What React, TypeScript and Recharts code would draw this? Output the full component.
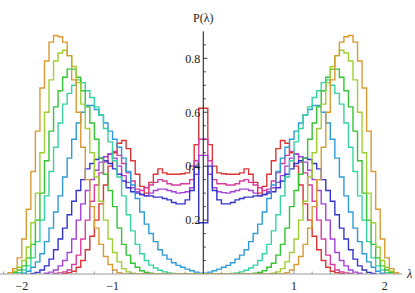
import { LineChart, Line, XAxis, YAxis, ReferenceLine, ReferenceDot } from "recharts";

// histogram bins: 88 bins of width 0.05 from -2.2 to 2.2
const BIN_START = -2.2;
const BIN_WIDTH = 0.05;

const orange = [
  0, 0.005, 0.02, 0.06, 0.13, 0.24, 0.38, 0.53, 0.69, 0.79, 0.86,
  0.885, 0.88, 0.86, 0.81, 0.72, 0.6, 0.47, 0.35, 0.25, 0.17, 0.11,
  0.065, 0.035, 0.015, 0.005, 0, 0, 0, 0, 0, 0, 0,
  0, 0, 0, 0, 0, 0, 0, 0, 0, 0, 0,
  0, 0, 0, 0, 0, 0, 0, 0, 0, 0, 0,
  0, 0, 0, 0, 0, 0, 0, 0.005, 0.015, 0.035, 0.065,
  0.11, 0.17, 0.25, 0.35, 0.47, 0.6, 0.72, 0.81, 0.86, 0.88, 0.885,
  0.86, 0.79, 0.69, 0.53, 0.38, 0.24, 0.13, 0.06, 0.02, 0.005, 0,
];

const yellowGreen = [
  0, 0, 0.01, 0.025, 0.05, 0.1, 0.19, 0.3, 0.45, 0.6, 0.72,
  0.79, 0.82, 0.83, 0.81, 0.77, 0.71, 0.63, 0.54, 0.45, 0.36, 0.27,
  0.2, 0.13, 0.08, 0.045, 0.02, 0.008, 0.003, 0, 0, 0, 0,
  0, 0, 0, 0, 0, 0, 0, 0, 0, 0, 0,
  0, 0, 0, 0, 0, 0, 0, 0, 0, 0, 0,
  0, 0, 0, 0, 0.003, 0.008, 0.02, 0.045, 0.08, 0.13, 0.2,
  0.27, 0.36, 0.45, 0.54, 0.63, 0.71, 0.77, 0.81, 0.83, 0.82, 0.79,
  0.72, 0.6, 0.45, 0.3, 0.19, 0.1, 0.05, 0.025, 0.01, 0, 0,
];

const green = [
  0, 0, 0.005, 0.015, 0.03, 0.06, 0.11, 0.2, 0.3, 0.42, 0.53,
  0.62, 0.68, 0.73, 0.76, 0.76, 0.73, 0.68, 0.62, 0.56, 0.5, 0.43,
  0.37, 0.31, 0.25, 0.17, 0.11, 0.07, 0.04, 0.025, 0.012, 0.006, 0.003,
  0, 0, 0, 0, 0, 0, 0, 0, 0, 0, 0,
  0, 0, 0, 0, 0, 0, 0, 0, 0, 0, 0,
  0.003, 0.006, 0.012, 0.025, 0.04, 0.07, 0.11, 0.17, 0.25, 0.31, 0.37,
  0.43, 0.5, 0.56, 0.62, 0.68, 0.73, 0.76, 0.76, 0.73, 0.68, 0.62,
  0.53, 0.42, 0.3, 0.2, 0.11, 0.06, 0.03, 0.015, 0.005, 0, 0,
];

const teal = [
  0, 0, 0, 0.005, 0.015, 0.03, 0.06, 0.12, 0.2, 0.29, 0.38,
  0.47, 0.56, 0.63, 0.67, 0.7, 0.72, 0.71, 0.68, 0.655, 0.62, 0.59,
  0.54, 0.49, 0.42, 0.36, 0.29, 0.22, 0.16, 0.11, 0.075, 0.05, 0.033,
  0.022, 0.014, 0.008, 0.004, 0.002, 0, 0, 0, 0, 0, 0,
  0, 0, 0, 0, 0, 0, 0.002, 0.004, 0.008, 0.014, 0.022,
  0.033, 0.05, 0.075, 0.11, 0.16, 0.22, 0.29, 0.36, 0.42, 0.49, 0.54,
  0.59, 0.62, 0.655, 0.68, 0.71, 0.72, 0.7, 0.67, 0.63, 0.56, 0.47,
  0.38, 0.29, 0.2, 0.12, 0.06, 0.03, 0.015, 0.005, 0, 0, 0,
];

const skyBlue = [
  0, 0, 0, 0, 0.003, 0.01, 0.025, 0.045, 0.075, 0.12, 0.17,
  0.23, 0.29, 0.36, 0.43, 0.5, 0.56, 0.6, 0.625, 0.625, 0.61, 0.59,
  0.56, 0.53, 0.5, 0.47, 0.43, 0.38, 0.33, 0.28, 0.23, 0.185, 0.15,
  0.12, 0.09, 0.07, 0.055, 0.042, 0.032, 0.025, 0.018, 0.012, 0.007, 0.003,
  0.003, 0.007, 0.012, 0.018, 0.025, 0.032, 0.042, 0.055, 0.07, 0.09, 0.12,
  0.15, 0.185, 0.23, 0.28, 0.33, 0.38, 0.43, 0.47, 0.5, 0.53, 0.56,
  0.59, 0.61, 0.625, 0.625, 0.6, 0.56, 0.5, 0.43, 0.36, 0.29, 0.23,
  0.17, 0.12, 0.075, 0.045, 0.025, 0.01, 0.003, 0, 0, 0, 0,
];

const blue = [
  0, 0, 0, 0, 0, 0, 0.002, 0.006, 0.015, 0.03, 0.055,
  0.09, 0.13, 0.17, 0.22, 0.27, 0.31, 0.35, 0.39, 0.41, 0.425, 0.43,
  0.42, 0.41, 0.39, 0.37, 0.345, 0.32, 0.305, 0.3, 0.295, 0.29, 0.29,
  0.285, 0.285, 0.28, 0.275, 0.265, 0.26, 0.26, 0.275, 0.31, 0.4, 0.19,
  0.19, 0.4, 0.31, 0.275, 0.26, 0.26, 0.265, 0.275, 0.28, 0.285, 0.285,
  0.29, 0.29, 0.295, 0.3, 0.305, 0.32, 0.345, 0.37, 0.39, 0.41, 0.42,
  0.43, 0.425, 0.41, 0.39, 0.35, 0.31, 0.27, 0.22, 0.17, 0.13, 0.09,
  0.055, 0.03, 0.015, 0.006, 0.002, 0, 0, 0, 0, 0, 0,
];

const purple = [
  0, 0, 0, 0, 0, 0, 0, 0, 0, 0.003, 0.007,
  0.015, 0.03, 0.05, 0.08, 0.13, 0.2, 0.26, 0.31, 0.35, 0.385, 0.415,
  0.435, 0.445, 0.43, 0.4, 0.365, 0.34, 0.32, 0.305, 0.295, 0.29, 0.3,
  0.31, 0.315, 0.315, 0.31, 0.305, 0.3, 0.302, 0.305, 0.32, 0.37, 0.44,
  0.44, 0.37, 0.32, 0.305, 0.302, 0.3, 0.305, 0.31, 0.315, 0.315, 0.31,
  0.3, 0.29, 0.295, 0.305, 0.32, 0.34, 0.365, 0.4, 0.43, 0.445, 0.435,
  0.415, 0.385, 0.35, 0.31, 0.26, 0.2, 0.13, 0.08, 0.05, 0.03, 0.015,
  0.007, 0.003, 0, 0, 0, 0, 0, 0, 0, 0, 0,
];

const magenta = [
  0, 0, 0, 0, 0, 0, 0, 0, 0, 0, 0,
  0.002, 0.004, 0.008, 0.015, 0.035, 0.07, 0.13, 0.2, 0.27, 0.33, 0.375,
  0.415, 0.445, 0.455, 0.44, 0.41, 0.375, 0.345, 0.315, 0.31, 0.32, 0.33,
  0.34, 0.35, 0.345, 0.335, 0.33, 0.33, 0.335, 0.335, 0.35, 0.42, 0.5,
  0.5, 0.42, 0.35, 0.335, 0.335, 0.33, 0.33, 0.335, 0.345, 0.35, 0.34,
  0.33, 0.32, 0.31, 0.315, 0.345, 0.375, 0.41, 0.44, 0.455, 0.445, 0.415,
  0.375, 0.33, 0.27, 0.2, 0.13, 0.07, 0.035, 0.015, 0.008, 0.004, 0.002,
  0, 0, 0, 0, 0, 0, 0, 0, 0, 0, 0,
];

const red = [
  0, 0, 0, 0, 0, 0, 0, 0, 0, 0, 0,
  0, 0, 0.002, 0.005, 0.01, 0.025, 0.05, 0.09, 0.14, 0.2, 0.26,
  0.33, 0.4, 0.45, 0.485, 0.495, 0.465, 0.42, 0.37, 0.325, 0.3, 0.34,
  0.37, 0.39, 0.375, 0.37, 0.37, 0.37, 0.372, 0.375, 0.4, 0.48, 0.615,
  0.615, 0.48, 0.4, 0.375, 0.372, 0.37, 0.37, 0.37, 0.375, 0.39, 0.37,
  0.34, 0.3, 0.325, 0.37, 0.42, 0.465, 0.495, 0.485, 0.45, 0.4, 0.33,
  0.26, 0.2, 0.14, 0.09, 0.05, 0.025, 0.01, 0.005, 0.002, 0, 0,
  0, 0, 0, 0, 0, 0, 0, 0, 0, 0, 0,
];

const xMajorTicks = [-2, -1, 1, 2];
const xMinorTicks = [-2.2, -1.8, -1.6, -1.4, -1.2, -0.8, -0.6, -0.4, -0.2, 0.2, 0.4, 0.6, 0.8, 1.2, 1.4, 1.6, 1.8];
const yMajorTicks = [0.2, 0.4, 0.6, 0.8];
const yMinorTicks = [0.05, 0.1, 0.15, 0.25, 0.3, 0.35, 0.45, 0.5, 0.55, 0.65, 0.7, 0.75, 0.85];

const SERIF = "'Liberation Serif', 'DejaVu Serif', serif";

const series = [
  { name: "red", values: red, color: "#dc3535" },
  { name: "magenta", values: magenta, color: "#d83c9e" },
  { name: "purple", values: purple, color: "#a443d8" },
  { name: "blue", values: blue, color: "#3535cc" },
  { name: "skyBlue", values: skyBlue, color: "#2f9bd6" },
  { name: "teal", values: teal, color: "#36d4a2" },
  { name: "green", values: green, color: "#34c434" },
  { name: "yellowGreen", values: yellowGreen, color: "#9dcf33" },
  { name: "orange", values: orange, color: "#d99a33" },
];

function toSteps(values: number[]) {
  const edge = (i: number) => +(BIN_START + i * BIN_WIDTH).toFixed(3);
  const first = values.findIndex((v) => v > 0);
  let last = values.length - 1;
  while (last > first && values[last] === 0) last--;
  const pts = [{ x: edge(first), y: 0 }];
  for (let i = first; i <= last; i++) pts.push({ x: edge(i), y: values[i] });
  pts.push({ x: edge(last + 1), y: 0 });
  return pts;
}

const fmt = (v: number) => (v < 0 ? "\u2212" + Math.abs(v) : String(v));

function XTick(props: any) {
  const { x, y, payload } = props;
  const major = xMajorTicks.includes(payload.value);
  return (
    <g>
      <line x1={x} x2={x} y1={y} y2={y - (major ? 4 : 2.5)} stroke="#888" strokeWidth={0.8} />
      {major && (
        <text x={x} y={y + 16} textAnchor="middle" fontSize={12} fontFamily={SERIF} fill="#222">
          {fmt(payload.value)}
        </text>
      )}
    </g>
  );
}

export default function App() {
  return (
    <div style={{ position: "absolute", left: 0, top: 0, width: 415, height: 293, background: "#fff" }}>
      <LineChart width={415} height={293} margin={{ top: 26, right: 13, bottom: 0, left: 0 }}>
        <XAxis
          type="number"
          dataKey="x"
          domain={[-2.24, 2.19]}
          allowDataOverflow
          ticks={[...xMajorTicks, ...xMinorTicks]}
          interval={0}
          tick={(p: any) => <XTick {...p} />}
          tickLine={false}
          tickSize={0}
          tickMargin={0}
          axisLine={{ stroke: "#999" }}
          height={19}
        />
        <YAxis type="number" dataKey="y" domain={[0, 0.92]} allowDataOverflow hide />
        {series.map((s) => (
          <Line
            key={s.name}
            data={toSteps(s.values)}
            dataKey="y"
            type="stepAfter"
            stroke={s.color}
            strokeWidth={1.4}
            dot={false}
            activeDot={false}
            isAnimationActive={false}
          />
        ))}
        <ReferenceLine segment={[{ x: 0, y: 0 }, { x: 0, y: 0.9 }]} stroke="#111" strokeWidth={1} />
        {yMinorTicks.map((v) => (
          <ReferenceLine key={"m" + v} segment={[{ x: 0, y: v }, { x: 0.028, y: v }]} stroke="#111" strokeWidth={0.8} />
        ))}
        {yMajorTicks.map((v) => (
          <ReferenceLine key={"M" + v} segment={[{ x: 0, y: v }, { x: 0.045, y: v }]} stroke="#111" strokeWidth={0.8} />
        ))}
        {yMajorTicks.map((v) => (
          <ReferenceDot
            key={"l" + v}
            x={0}
            y={v}
            r={0}
            fill="none"
            stroke="none"
            label={{ value: String(v), position: "left", offset: 3, fontSize: 12, fontFamily: SERIF, fill: "#222" }}
          />
        ))}
        <ReferenceDot
          x={0}
          y={0.9}
          r={0}
          fill="none"
          stroke="none"
          label={{ value: "P(\u03bb)", position: "top", offset: 9, fontSize: 12, fontFamily: SERIF, fill: "#222" }}
        />
        <ReferenceDot
          x={2.19}
          y={0}
          r={0}
          fill="none"
          stroke="none"
          label={{ value: "\u03bb", position: "right", offset: 5, fontSize: 12, fontStyle: "italic", fontFamily: SERIF, fill: "#222" }}
        />
      </LineChart>
    </div>
  );
}
